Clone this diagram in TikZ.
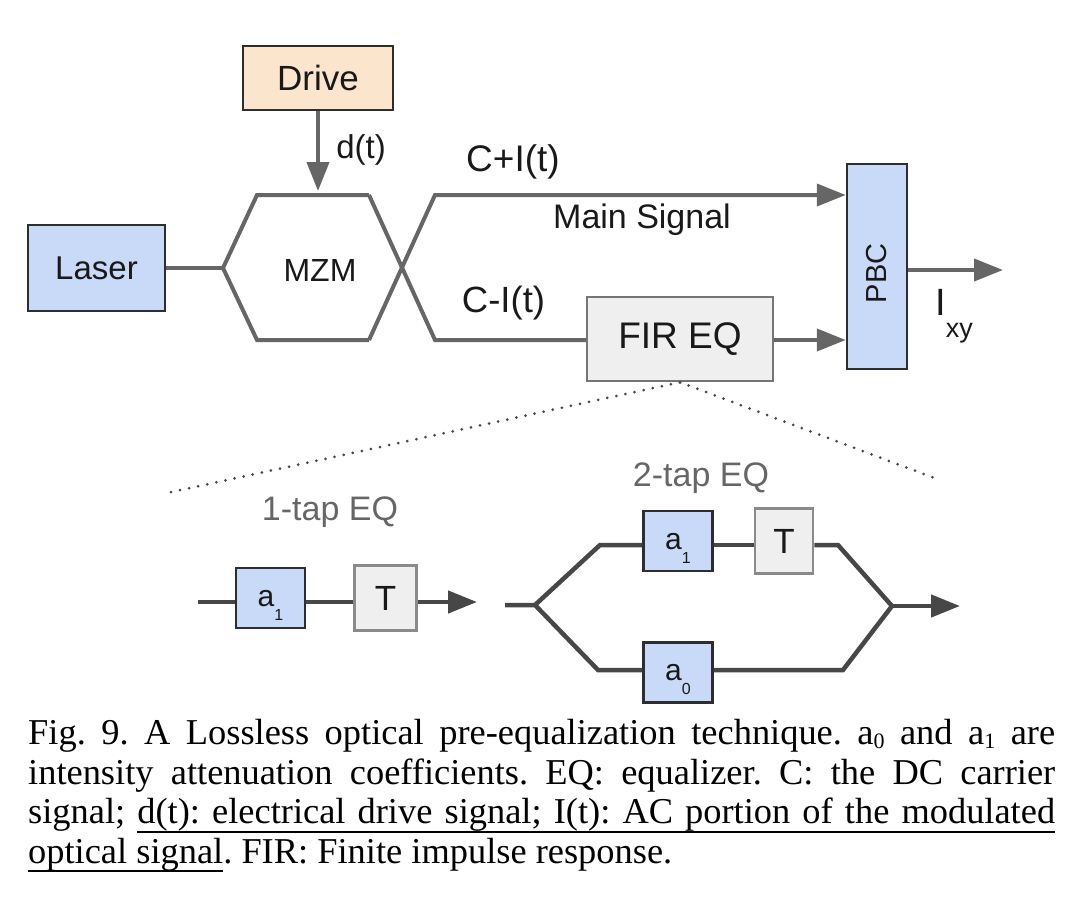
\documentclass[tikz,border=0pt]{standalone}
\usepackage{fontspec}
\setmainfont{Liberation Serif}
\newfontfamily\diagfont{Liberation Sans}
\usetikzlibrary{positioning,arrows.meta}
\definecolor{lineg}{HTML}{666666}
\definecolor{eqg}{HTML}{474747}
\definecolor{edge}{HTML}{2E2E2E}
\definecolor{lblue}{HTML}{C9DAF8}
\definecolor{lorange}{HTML}{FCE5CD}
\definecolor{lgrey}{HTML}{EFEFEF}
\definecolor{tgrey}{HTML}{8A8A8A}
\newcommand{\fsz}[1]{\fontsize{#1pt}{#1pt}\selectfont}
\newcommand{\coefsub}[1]{\raisebox{-14pt}{\fsz{16}#1}}
\newcommand{\capsub}[1]{\raisebox{-4pt}{\fsz{22}#1}}
% underlined word and underlined space for the caption
\newcommand{\uw}[1]{\leavevmode\setbox0\hbox{#1}\rlap{\rule[-9pt]{\wd0}{2pt}}\box0}
\newcommand{\ulsp}{\leaders\hrule height -7pt depth 9pt\hskip\fontdimen2\font plus\fontdimen3\font minus\fontdimen4\font\relax}

\begin{document}
\begin{tikzpicture}[x=1pt,y=-1pt,>={Triangle[length=29pt,width=22pt]},
    sigline/.style={draw=lineg,line width=4pt},
    eqline/.style={draw=eqg,line width=4.5pt},
    dotline/.style={draw=eqg,line width=3pt,line cap=round,dash pattern=on 0pt off 9.3pt},
    blk/.style={draw=edge,line width=2.5pt,inner sep=0pt,text=black!90,font=\diagfont},
    bluebox/.style={blk,fill=lblue},
    drivebox/.style={blk,fill=lorange},
    greybox/.style={blk,draw=tgrey,fill=lgrey},
    coefbox/.style={bluebox,minimum width=69pt,minimum height=60pt,text depth=0pt,font=\diagfont\fsz{30}},
    delaybox/.style={greybox,minimum width=62pt,minimum height=65pt,font=\diagfont\fsz{35}},
    lbl/.style={inner sep=0pt,text=black!90,font=\diagfont\fsz{34}},
    taplbl/.style={lbl,text=lineg}]
    \useasboundingbox (0,0) rectangle (1080,903);

    % transmitter
    \node[bluebox,minimum width=137pt,minimum height=86pt,font=\diagfont\fsz{33}] (laser) at (96.5,268) {Laser};
    \node[drivebox,minimum width=150pt,minimum height=64pt,font=\diagfont\fsz{35}] (drive) at (318,78) {Drive};
    \node[lbl,font=\diagfont\fsz{32}] (mzm) at (320,270) {MZM};
    \coordinate (mzmW) at (223,268);
    \coordinate (mzmNW) at (257,195);
    \coordinate (mzmNE) at (369,195);
    \coordinate (mzmSW) at (257,340);
    \coordinate (mzmSE) at (369,340);
    \coordinate (armU) at (435,195);
    \coordinate (armL) at (435,340);
    \node[greybox,draw=tgrey!85!black,minimum width=186pt,minimum height=84pt,font=\diagfont\fsz{37}] (fir) at (680,339) {FIR EQ};
    \node[bluebox,minimum width=60pt,minimum height=205pt,font=\diagfont\fsz{29}] (pbc) at (877,266.5) {\rotatebox{90}{PBC\hspace{14pt}}};
    \coordinate (ixyout) at (1003,270);

    \draw[sigline] (laser) -- (mzmW);
    \draw[sigline] (mzmNE) -- (mzmNW) -- (mzmW) -- (mzmSW) -- (mzmSE);
    \draw[sigline,->] (mzmSE) -- (armU) -- (armU -| pbc.west);
    \draw[sigline] (mzmNE) -- (armL) -- (armL -| fir.west);
    \draw[sigline,->] (fir.east |- armL) -- (armL -| pbc.west);
    \draw[sigline,->,shorten >=4pt] (drive) -- (drive |- mzmNE);
    \draw[sigline,->] (pbc.east |- ixyout) -- (ixyout);

    \node[lbl,font=\diagfont\fsz{33}] (dt) at (361,150) {d(t)};
    \node[lbl,font=\diagfont\fsz{37}] (cplus) at (513,161.5) {C+I(t)};
    \node[lbl] (msig) at (642,220) {Main Signal};
    \node[lbl,font=\diagfont\fsz{36.5}] (cminus) at (503.5,303.5) {C-I(t)};
    \node[lbl,anchor=base west,font=\diagfont\fsz{38}] (ixy) at (935,315) {I\raisebox{-22pt}{\fsz{27}xy}};

    % zoom into the equalizer
    \coordinate (zoomL) at (167,493);
    \coordinate (zoomR) at (937,479);
    \draw[dotline] (fir.south) -- (zoomL);
    \draw[dotline] (fir.south) -- (zoomR);

    % 1-tap
    \node[taplbl] (tap1) at (330,512) {1-tap EQ};
    \coordinate (t1in) at (198,602);
    \node[coefbox] (t1a) at (270.5,598) {a\coefsub{1}};
    \node[delaybox] (t1d) [right=47pt of t1a] {T};
    \coordinate (t1out) at (477,602);
    \draw[eqline] (t1in) -- (t1in -| t1a.west);
    \draw[eqline] (t1a.east |- t1in) -- (t1in -| t1d.west);
    \draw[eqline,->] (t1d.east |- t1in) -- (t1out);

    % 2-tap
    \node[taplbl] (tap2) at (701,478) {2-tap EQ};
    \coordinate (t2in) at (505,605);
    \coordinate (t2split) at (535,605);
    \coordinate (t2ul) at (600,545);
    \coordinate (t2ur) at (838,545);
    \coordinate (t2ll) at (598,670);
    \coordinate (t2lr) at (843,670);
    \coordinate (t2merge) at (892,606);
    \coordinate (t2out) at (960,606);
    \node[coefbox] (t2a) at (678,541) {a\coefsub{1}};
    \node[delaybox,minimum width=58pt] (t2d) [right=40pt of t2a] {T};
    \node[coefbox] (t2b) [below=69pt of t2a] {a\coefsub{0}};
    \draw[eqline] (t2in) -- (t2split) -- (t2ul) -- (t2ul -| t2a.west);
    \draw[eqline] (t2a.east |- t2ul) -- (t2ul -| t2d.west);
    \draw[eqline] (t2d.east |- t2ur) -- (t2ur) -- (t2merge) -- (t2lr) -- (t2lr -| t2b.east);
    \draw[eqline] (t2split) -- (t2ll) -- (t2ll -| t2b.west);
    \draw[eqline,->] (t2merge) -- (t2out);

    % caption
    \node[anchor=north west,inner sep=0pt,text width=1027pt,align=justify,
          font=\fontsize{36.4pt}{39.5pt}\selectfont] (caption) at (28,719.5)
      {\frenchspacing\tolerance=9999 \hyphenpenalty=10000
       Fig.~9. A Lossless optical pre-equalization technique. a\capsub{0} and a\capsub{1} are\linebreak
       intensity attenuation coefficients. EQ: equalizer. C: the DC carrier\linebreak
       signal; \uw{d(t):}\ulsp\uw{electrical}\ulsp\uw{drive}\ulsp\uw{signal;}\ulsp\uw{I(t):}\ulsp\uw{AC}\ulsp\uw{portion}\ulsp\uw{of}\ulsp\uw{the}\ulsp\uw{modulated}\linebreak
       \uw{optical}\ulsp\uw{signal}. FIR: Finite impulse response.};
\end{tikzpicture}
\end{document}
